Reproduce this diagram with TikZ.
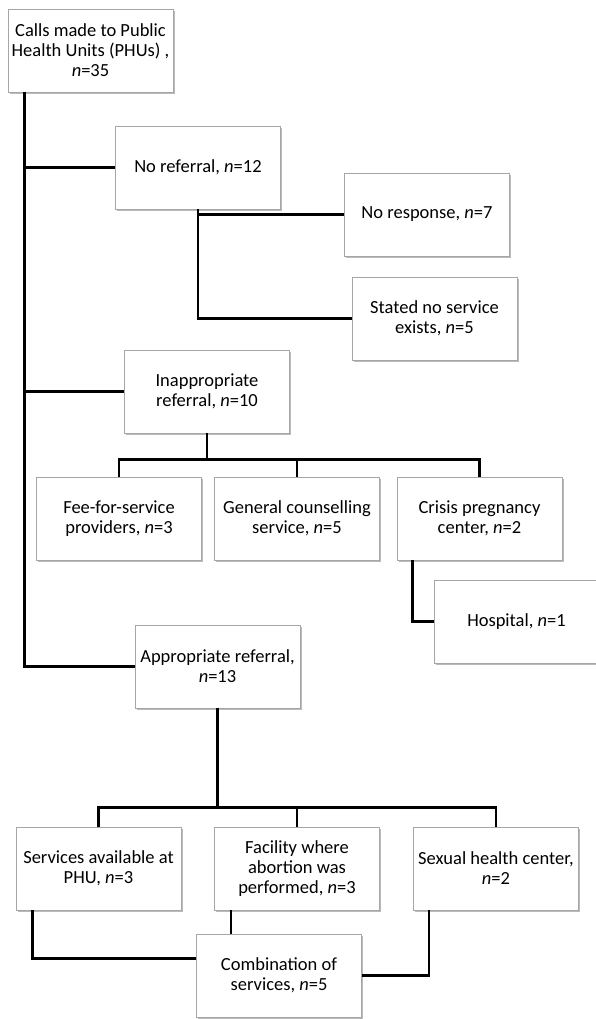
\documentclass[tikz,border=0pt]{standalone}
\usepackage{fontspec}
\setmainfont{Carlito}
\usetikzlibrary{positioning,calc,shadows}

\begin{document}
\begin{tikzpicture}[x=1pt,y=-1pt,
  stagebox/.style={rectangle,draw=black!35,line width=0.8pt,fill=white,minimum width=165pt,minimum height=83pt,align=center,inner sep=2pt,font=\fontsize{18.5}{20}\selectfont,drop shadow={shadow xshift=1.5pt,shadow yshift=-2pt,fill=black!45,opacity=0.6}},
  link/.style={line width=2.5pt}]
\useasboundingbox (0,0) rectangle (595,1019);
\node[stagebox] (calls) at (90.5,50.5) {Calls made to Public\\Health Units (PHUs) ,\\\textit{n}=35};
\node[stagebox] (noref) at (198,167.5) {No referral, \textit{n}=12};
\node[stagebox] (noresp) at (427,214.5) {No response, \textit{n}=7};
\node[stagebox] (nosvc) at (434.5,318.5) {Stated no service\\exists, \textit{n}=5};
\node[stagebox] (inappr) at (207,391.5) {Inappropriate\\referral, \textit{n}=10};
\node[stagebox] (fee) at (119,518.5) {Fee-for-service\\providers, \textit{n}=3};
\node[stagebox] (gencoun) at (297,518.5) {General counselling\\service, \textit{n}=5};
\node[stagebox] (crisis) at (479.5,518.5) {Crisis pregnancy\\center, \textit{n}=2};
\node[stagebox] (hosp) at (516.5,621.5) {Hospital, \textit{n}=1};
\node[stagebox] (approp) at (217.5,666.5) {Appropriate referral,\\\textit{n}=13};
\node[stagebox] (onsite) at (98.5,868.5) {Services available at\\PHU, \textit{n}=3};
\node[stagebox] (facility) at (297,868.5) {Facility where\\abortion was\\performed, \textit{n}=3};
\node[stagebox] (sexhealth) at (496,868.5) {Sexual health center,\\\textit{n}=2};
\node[stagebox] (combo) at (279,975.5) {Combination of\\services, \textit{n}=5};
% main trunk
\coordinate (trunk) at ([xshift=17pt]calls.south west);
\draw[link] (trunk) |- (approp.west);
\draw[link] (trunk |- noref.west) -- (noref.west);
\draw[link] (trunk |- inappr.west) -- (inappr.west);
% no referral
\draw[link] (noref.south) |- (nosvc.west);
\draw[link] (noref.south |- noresp.west) -- (noresp.west);
% inappropriate referral
\coordinate (inbus) at ($(inappr.south)!0.6!(gencoun.north)$);
\draw[link] (inappr.south) -- (inappr.south |- inbus);
\draw[link] (fee.north) |- (inbus -| crisis.north) -- (crisis.north);
\draw[link] (gencoun.north) -- (gencoun.north |- inbus);
\draw[link] ([xshift=16pt]crisis.south west) |- (hosp.west);
% appropriate referral
\coordinate (apbus) at ($(approp.south)!0.84!(facility.north)$);
\draw[link] (approp.south) -- (approp.south |- apbus);
\draw[link] (onsite.north) |- (apbus -| sexhealth.north) -- (sexhealth.north);
\draw[link] (facility.north) -- (facility.north |- apbus);
\draw[link] ([xshift=17pt]onsite.south west) |- ([yshift=17pt]combo.west);
\draw[link] ([xshift=17pt]facility.south west) -- ([xshift=17pt]facility.south west |- combo.north);
\draw[link] ([xshift=16pt]sexhealth.south west) |- (combo.east);
\end{tikzpicture}
\end{document}
